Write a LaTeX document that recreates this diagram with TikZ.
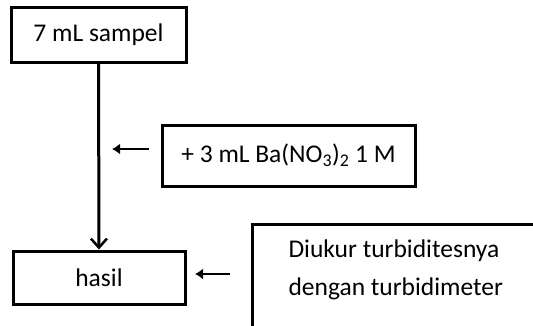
\documentclass[tikz,border=0pt]{standalone}
\usepackage{fontspec}
\setmainfont{Carlito}
\usetikzlibrary{arrows.meta}
\tikzset{
  kotak/.style={draw,line width=3pt,minimum height=55pt,inner sep=0pt},
  teks/.style={font=\fontsize{25.5}{38}\selectfont},
  panah/.style={line width=2.5pt,-{Latex[length=8pt,width=11pt]}}
}
\begin{document}
\begin{tikzpicture}[x=1pt,y=-1pt,teks]
   \useasboundingbox (0,0) rectangle (533,325);
   \clip (0,0) rectangle (533,325);
   \node[kotak,minimum width=175pt] (sampel) at (98.5,35) {7 mL sampel};
   \node[kotak,minimum width=172pt,minimum height=53pt] (hasil) at (99,277.5) {hasil};
   \node[kotak,minimum width=253pt,minimum height=61pt] (reagen) at (288.5,155.5)
      {+ 3 mL Ba(NO\textsubscript{3})\textsubscript{2} 1 M};
   \draw[line width=3pt,-{Straight Barb[length=9pt,width=16pt,line width=2.5pt]}] (sampel) -- (hasil);
   % panah penambahan pereaksi
   \coordinate (a1) at (149,149);
   \coordinate (b1) at (112,149);
   \draw[panah] (a1) -- (b1);
   % keterangan pengukuran
   \draw[line width=3pt] (545,224) -- (252,224) -- (252,340);
   \node[align=left,anchor=west] (ukur) at (285,270)
      {Diukur turbiditesnya\\dengan turbidimeter};
   \coordinate (a2) at (230,274);
   \coordinate (b2) at (195,274);
   \draw[panah] (a2) -- (b2);
\end{tikzpicture}
\end{document}
